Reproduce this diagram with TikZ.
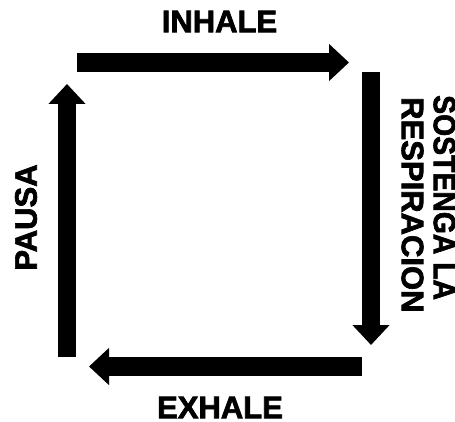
\documentclass[tikz,border=0pt]{standalone}
\usepackage{fontspec}
\setmainfont[BoldFeatures={FakeBold=2.2}]{Liberation Sans}
\usetikzlibrary{arrows.meta}
\tikzset{
  blockarrow/.style={line width=18.5pt, -{Triangle[width=36pt,length=20pt]}},
  lbl/.style={inner sep=0pt, font=\fontsize{31}{31}\selectfont\bfseries},
}
\begin{document}
\begin{tikzpicture}[x=1pt,y=1pt]
\useasboundingbox[fill=white] (0,0) rectangle (455,421);
% arrow end points
\coordinate (t1) at (77,358.5);
\coordinate (t2) at (349,358.5);
\coordinate (r1) at (371,349);
\coordinate (r2) at (371,76);
\coordinate (b1) at (362,54.5);
\coordinate (b2) at (89,54.5);
\coordinate (l1) at (67,64);
\coordinate (l2) at (67,337);
\draw[blockarrow] (t1) -- (t2);
\draw[blockarrow] (r1) -- (r2);
\draw[blockarrow] (b1) -- (b2);
\draw[blockarrow] (l1) -- (l2);
% labels
\node[lbl] (inhale) at (219.5,399.5) {INHALE};
\node[lbl] (exhale) at (220,13.5) {EXHALE};
\node[lbl, rotate=90] (pausa) at (26,203.5) {PAUSA};
\node[lbl, rotate=-90, anchor=west] (sost) at (444.5,326) {\scalebox{0.915}[1]{SOSTENGA LA}};
\node[lbl, rotate=-90, anchor=west] (resp) at (412.5,324) {RESPIRACION};
\end{tikzpicture}
\end{document}
